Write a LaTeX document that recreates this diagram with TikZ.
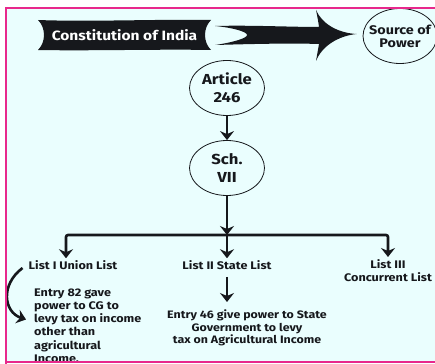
\documentclass[tikz,border=0pt]{standalone}
\usepackage{fontspec}
\setmainfont{Fira Sans}[FakeStretch=1.15]
\usetikzlibrary{positioning,calc,arrows.meta,shapes.geometric}
\definecolor{bgcyan}{RGB}{234,254,254}
\definecolor{framepink}{RGB}{232,40,140}
\definecolor{ink}{RGB}{22,24,28}

\begin{document}
\begin{tikzpicture}[x=1pt,y=-1pt,node distance=80pt,on grid,
   txt/.style={font=\bfseries\fontsize{11}{13.2}\selectfont,text=ink,inner sep=0pt,align=center},
   oval/.style={ellipse,draw=ink,line width=0.8pt,minimum width=75pt,minimum height=55pt,
                inner sep=0pt,align=center,text=ink,font=\bfseries\fontsize{14.5}{18}\selectfont},
   arr/.style={draw=ink,line width=2.6pt,rounded corners=2pt,
               -{Stealth[length=9pt,width=14pt,inset=3pt]}}]
   \useasboundingbox (0,0) rectangle (435,363);
   \fill[bgcyan] (6,8) rectangle (436,362);

   % banner
   \fill[ink] (38,20) .. controls (90,22) and (160,19) .. (211,20)
      .. controls (203,28) and (203,42) .. (211,50)
      .. controls (160,49) and (90,51) .. (38,50)
      .. controls (46,42) and (46,28) .. cycle;
   \node[txt,text=white,minimum width=173pt,font=\bfseries\fontsize{13.5}{15}\selectfont]
      (cons) at (124.5,35) {Constitution of India};
   \node[oval,inner xsep=-7pt,font=\bfseries\fontsize{12.5}{13}\selectfont,minimum width=74pt]
      (src) at (400,36) {Source of\\Power};

   \node[oval] (art) at (227,88) {Article\\246};
   \node[oval] (sch) [below=80pt of art] {Sch.\\VII};

   \node[txt,font=\bfseries\fontsize{11}{13.3}\selectfont] (l1) at (73,265) {List I Union List};
   \node[txt,font=\bfseries\fontsize{11}{13.3}\selectfont] (l2) [below=97pt of sch] {List II State List};
   \node[txt,font=\bfseries\fontsize{11}{13.3}\selectfont,anchor=north] (l3) at (388,259) {List III\\Concurrent List};

   \node[txt,align=left,anchor=north west] (e82) at (34,288.5)
      {Entry 82 gave\\power to CG to\\levy tax on income\\other than\\agricultural\\Income.};
   \node[txt,font=\bfseries\fontsize{10.8}{12.5}\selectfont,anchor=north] (e46) at (247,310)
      {Entry 46 give power to State\\Government to levy\\tax on Agricultural Income};

   % big arrow
   \fill[ink] ($(cons.east)+(4,-9)$)
      .. controls (250,25) and (290,27) .. (319,27)
      .. controls (318,20) .. (316,10)
      .. controls (322,24) and (338,33) .. ($(src.west)+(-6,-2)$)
      .. controls (338,36) and (322,46) .. (316,61)
      .. controls (318,52) .. (319,44)
      .. controls (290,43) and (250,44) .. ($(cons.east)+(4,10)$)
      .. controls (235,42) and (247,38) .. (247,35)
      .. controls (247,32) and (235,28) .. cycle;

   \coordinate (junc) at (227,235);
   \coordinate (l1top) at ($(l1.north)+(-7,-2)$);
   \coordinate (l3top) at ($(l3.north)+(0,-2)$);

   \draw[arr] (art) -- (sch);
   \draw[arr] (sch) -- (junc);
   \draw[arr] (junc) -| (l1top);
   \draw[arr] (junc) -| (l3top);
   \draw[arr,shorten >=2pt] (junc) -- (l2);
   \draw[arr,shorten <=7pt,shorten >=8pt] (l2.south) -- (l2.south |- e46.north);
   \draw[arr] ($(l1.west)+(-6,3)$) .. controls (0,285) and (4,312) .. ($(e82.north west)+(-8,31)$);

   % frame
   \draw[framepink,line width=2pt] (6,364) -- (6,8) -- (436,8);
   \draw[framepink,line width=2pt] (5,361.5) -- (436,361.5);
\end{tikzpicture}
\end{document}
